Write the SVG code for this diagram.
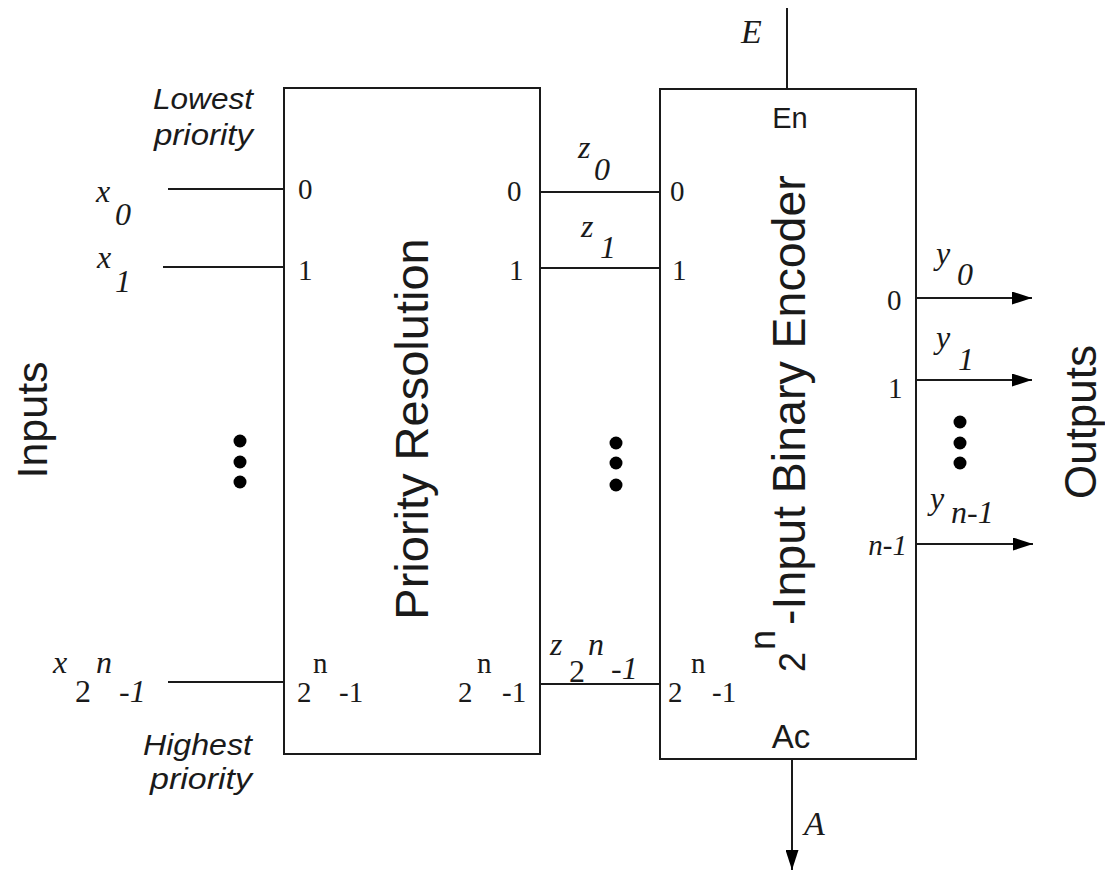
<svg xmlns="http://www.w3.org/2000/svg" width="1105" height="873" viewBox="0 0 1105 873">
<style>
.ln{stroke:#1a1a1a;stroke-width:2;fill:none}
.box{stroke:#1a1a1a;stroke-width:2;fill:#fff}
.sans{font-family:"Liberation Sans",Arial,sans-serif;fill:#1a1a1a}
.serif{font-family:"Liberation Serif","Times New Roman",serif;fill:#1a1a1a}
.it{font-style:italic}
.port{font-size:29px}
.var{font-size:32px}
.note{font-size:29px;font-style:italic}
.dot{fill:#000}
</style>
<defs>
<marker id="ah" markerUnits="userSpaceOnUse" markerWidth="20" markerHeight="13" refX="20" refY="6.5" orient="auto">
<path d="M0,0 L20,6.5 L0,13 z" fill="#000"/>
</marker>
</defs>
<rect width="1105" height="873" fill="#fff"/>

<g id="connectors">
<line class="ln" x1="168" y1="189" x2="284" y2="189"/>
<line class="ln" x1="163" y1="267" x2="284" y2="267"/>
<line class="ln" x1="168" y1="682" x2="284" y2="682"/>
<line class="ln" x1="540" y1="192" x2="660" y2="192"/>
<line class="ln" x1="540" y1="268" x2="660" y2="268"/>
<line class="ln" x1="540" y1="684" x2="660" y2="684"/>
<line class="ln" x1="787" y1="8" x2="787" y2="89"/>
<line class="ln" x1="792" y1="759" x2="792" y2="870" marker-end="url(#ah)"/>
<line class="ln" x1="916" y1="298" x2="1032" y2="298" marker-end="url(#ah)"/>
<line class="ln" x1="916" y1="380" x2="1032" y2="380" marker-end="url(#ah)"/>
<line class="ln" x1="916" y1="544" x2="1033" y2="544" marker-end="url(#ah)"/>
</g>

<g id="priority-resolution">
<rect class="box" x="284" y="88" width="256" height="666"/>
<text class="sans" font-size="47" text-anchor="middle" transform="translate(428,429) rotate(-90)">Priority Resolution</text>
<text class="serif port" x="298" y="199">0</text>
<text class="serif port" x="298" y="280">1</text>
<text class="serif port" x="297" y="702">2</text>
<text class="serif port" x="313" y="673">n</text>
<text class="serif port" x="339" y="702">-1</text>
<text class="serif port" x="507" y="201">0</text>
<text class="serif port" x="509" y="280">1</text>
<text class="serif port" x="458" y="702">2</text>
<text class="serif port" x="477" y="673">n</text>
<text class="serif port" x="502" y="702">-1</text>
</g>

<g id="binary-encoder">
<rect class="box" x="660" y="89" width="256" height="670"/>
<text class="sans" transform="translate(805,672) rotate(-90)"><tspan x="0" y="0" font-size="36">2</tspan><tspan x="22" y="-30" font-size="36">n</tspan><tspan x="47" y="0" font-size="46.5">-Input Binary Encoder</tspan></text>
<text class="sans" font-size="29" text-anchor="middle" x="790" y="128">En</text>
<text class="sans" font-size="33" text-anchor="middle" x="791" y="748">Ac</text>
<text class="serif port" x="670" y="201">0</text>
<text class="serif port" x="672" y="280">1</text>
<text class="serif port" x="668" y="702">2</text>
<text class="serif port" x="691" y="673">n</text>
<text class="serif port" x="712" y="702">-1</text>
<text class="serif port" x="887" y="310">0</text>
<text class="serif port" x="888" y="398">1</text>
<text class="serif port it" x="907" y="555" text-anchor="end">n-1</text>
</g>

<g id="inputs">
<text class="sans" font-size="43" text-anchor="middle" transform="translate(47,420) rotate(-90)">Inputs</text>
<text class="sans note" x="253" y="109" text-anchor="end" textLength="100" lengthAdjust="spacingAndGlyphs">Lowest</text>
<text class="sans note" x="253" y="145" text-anchor="end" textLength="99" lengthAdjust="spacingAndGlyphs">priority</text>
<text class="sans note" x="252" y="755" text-anchor="end" textLength="109" lengthAdjust="spacingAndGlyphs">Highest</text>
<text class="sans note" x="252" y="789" text-anchor="end" textLength="102" lengthAdjust="spacingAndGlyphs">priority</text>
<text class="serif var it" x="96" y="202">x</text>
<text class="serif var it" x="115" y="225">0</text>
<text class="serif var it" x="97" y="268">x</text>
<text class="serif var it" x="115" y="292">1</text>
<text class="serif var it" x="53" y="673">x</text>
<text class="serif var" x="75" y="702">2</text>
<text class="serif var it" x="96" y="673">n</text>
<text class="serif var it" x="119" y="702">-1</text>
<circle class="dot" cx="240" cy="441" r="6.5"/>
<circle class="dot" cx="240" cy="462" r="6.5"/>
<circle class="dot" cx="240" cy="482" r="6.5"/>
</g>

<g id="internal-signals">
<text class="serif var it" x="578" y="158">z</text>
<text class="serif var it" x="594" y="180">0</text>
<text class="serif var it" x="581" y="237">z</text>
<text class="serif var it" x="600" y="258">1</text>
<text class="serif var it" x="550" y="655">z</text>
<text class="serif var" x="569" y="682">2</text>
<text class="serif var it" x="588" y="655">n</text>
<text class="serif var it" x="611" y="679">-1</text>
<circle class="dot" cx="616" cy="443" r="6.5"/>
<circle class="dot" cx="616" cy="463" r="6.5"/>
<circle class="dot" cx="616" cy="485" r="6.5"/>
</g>

<g id="enable">
<text class="serif it" font-size="34" x="741" y="43">E</text>
</g>

<g id="active">
<text class="serif it" font-size="34" x="804" y="835">A</text>
</g>

<g id="outputs">
<text class="sans" font-size="44" text-anchor="middle" transform="translate(1096,422) rotate(-90)">Outputs</text>
<text class="serif var it" x="936" y="264">y</text>
<text class="serif var it" x="957" y="285">0</text>
<text class="serif var it" x="936" y="348">y</text>
<text class="serif var it" x="958" y="370">1</text>
<text class="serif var it" x="930" y="509">y</text>
<text class="serif var it" x="951" y="523">n-1</text>
<circle class="dot" cx="960" cy="422" r="6.5"/>
<circle class="dot" cx="960" cy="443" r="6.5"/>
<circle class="dot" cx="960" cy="463" r="6.5"/>
</g>
</svg>
